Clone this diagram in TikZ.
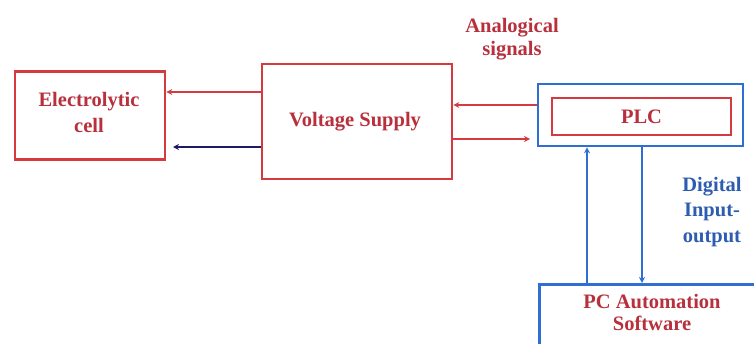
\documentclass[tikz,border=0pt]{standalone}
\usepackage{fontspec}
\setmainfont{Liberation Serif}
\usetikzlibrary{arrows.meta}
\definecolor{boxred}{HTML}{D43A40}
\definecolor{txtred}{HTML}{B8303C}
\definecolor{boxblue}{HTML}{2F6FD4}
\definecolor{txtblue}{HTML}{2D5DB0}
\definecolor{navy}{HTML}{1C1C66}
\tikzset{
  redbox/.style={draw=boxred, line width=2.6pt, inner sep=0pt, text=txtred},
  bluebox/.style={draw=boxblue, line width=2.6pt, inner sep=0pt},
  lbl/.style={font=\bfseries\fontsize{20.5}{26}\selectfont, align=center, inner sep=0pt},
  redarrow/.style={draw=boxred, line width=2.5pt, -{Stealth[length=6pt,width=6pt]}},
  navyarrow/.style={draw=navy, line width=2.5pt, -{Stealth[length=6pt,width=6pt]}},
  bluearrow/.style={draw=boxblue, line width=2.5pt, -{Stealth[length=6pt,width=6pt]}},
}
\begin{document}
\begin{tikzpicture}[x=1pt,y=-1pt]
\useasboundingbox (0,0) rectangle (754,343);
\clip (0,0) rectangle (754,343);
\fill[white] (0,0) rectangle (754,343);
% boxes
\node[redbox, minimum width=150pt, minimum height=88pt] (cell) at (90,115.5) {};
\node[lbl, text=txtred] (celltxt) at (89,112) {Electrolytic\\cell};
\node[redbox, minimum width=190pt, minimum height=115pt] (vs) at (357,121.5) {};
\node[lbl, text=txtred] (vstxt) at (355,122) {Voltage Supply};
\node[bluebox, minimum width=205pt, minimum height=62pt] (plcout) at (640.5,115) {};
\node[redbox, minimum width=179pt, minimum height=37pt] (plcin) at (641.5,116.5) {};
\node[lbl, text=txtred] (plctxt) at (641.5,117) {PLC};
\node[bluebox, minimum width=262pt, minimum height=120pt, anchor=north west] (pc) at (538,283) {};
\node[lbl, text=txtred, font=\bfseries\fontsize{20.5}{22}\selectfont] (pctxt) at (652,312) {PC Automation\\Software};
% labels
\node[lbl, text=txtred, font=\bfseries\fontsize{20.5}{23}\selectfont] (analog) at (512,39) {Analogical\\signals};
\node[lbl, text=txtblue, font=\bfseries\fontsize{20.5}{25.5}\selectfont] (digital) at (712,212) {Digital\\Input-\\output};
% free ends
\coordinate (navyend) at (173,147);
\coordinate (vsoutend) at (530,139);
% connectors
\draw[redarrow] (vs.west |- 0,92) -- (cell.east |- 0,92);
\draw[navyarrow] (vs.west |- 0,147) -- (navyend);
\draw[redarrow] (plcout.west |- 0,105) -- (vs.east |- 0,105);
\draw[redarrow] (vs.east |- 0,139) -- (vsoutend);
\draw[bluearrow] (pc.north -| 587,0) -- (plcout.south -| 587,0);
\draw[bluearrow] (plcout.south -| 642,0) -- (pc.north -| 642,0);
\end{tikzpicture}
\end{document}
